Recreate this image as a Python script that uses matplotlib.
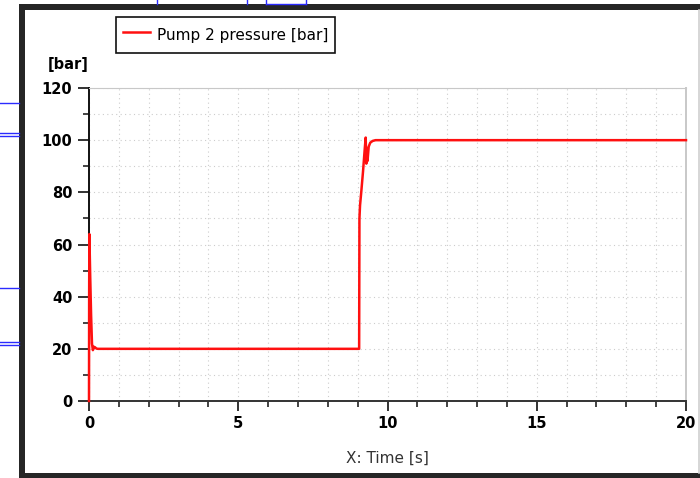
import numpy as np
import matplotlib
matplotlib.use("Agg")
import matplotlib.pyplot as plt
from matplotlib.ticker import MultipleLocator
from matplotlib.lines import Line2D
from matplotlib.patches import Rectangle

# pump 2 pressure trace
time_s = [0.0, 0.005, 0.012, 0.04, 0.07, 0.1, 0.13, 0.16, 0.2, 0.25, 0.3, 0.35,
          9.05, 9.06, 9.08, 9.12, 9.18, 9.24, 9.27, 9.29, 9.31, 9.33, 9.37,
          9.42, 9.5, 9.6, 9.75, 20.0]
pressure_bar = [0.0, 40.0, 64.0, 48.0, 33.0, 22.0, 19.5, 20.8, 20.6, 20.1, 20.0, 20.0,
                20.0, 70.0, 75.0, 80.0, 88.0, 97.0, 101.0, 91.0, 97.0, 92.0, 97.5,
                99.0, 99.7, 100.0, 100.0, 100.0]

x_ticks = [0, 5, 10, 15, 20]
y_ticks = [0, 20, 40, 60, 80, 100, 120]

fig = plt.figure(figsize=(7.0, 4.78), dpi=100)
fig.patch.set_facecolor("white")

# screenshot window frame and blue diagram bits behind it
W, H = 700.0, 478.0
def fx(px):
    return px / W
def fy(py):
    return 1 - py / H

blue = "#2b2bff"
for yy in [103, 133, 136, 288, 342, 345]:
    fig.add_artist(Line2D([0, fx(19)], [fy(yy), fy(yy)], color=blue, lw=1.0))
for xx in [157, 247, 266, 306]:
    fig.add_artist(Line2D([fx(xx), fx(xx)], [1, fy(4)], color=blue, lw=1.0))
fig.add_artist(Line2D([fx(266), fx(306)], [fy(4), fy(4)], color=blue, lw=1.0))
fig.add_artist(Rectangle((fx(19), fy(478)), fx(6), fy(4) - fy(478), color="#262626", lw=0))
fig.add_artist(Rectangle((fx(19), fy(10)), 1 - fx(19), fy(4) - fy(10), color="#262626", lw=0))
fig.add_artist(Rectangle((fx(19), 0), 1 - fx(19), fy(473), color="#262626", lw=0))
fig.add_artist(Line2D([fx(698.5), fx(698.5)], [fy(473), fy(10)], color="#d0d0d0", lw=1.2))

ax = fig.add_axes([fx(89), fy(401), fx(686) - fx(89), fy(88) - fy(401)])
ax.plot(time_s, pressure_bar, color="#ff1010", lw=1.8, label="Pump 2 pressure [bar]",
        clip_on=False, zorder=5)

ax.set_xlim(0, 20)
ax.set_ylim(0, 120)
ax.set_xticks(x_ticks)
ax.set_yticks(y_ticks)
ax.xaxis.set_minor_locator(MultipleLocator(1))
ax.yaxis.set_minor_locator(MultipleLocator(10))
ax.grid(True, which="both", color="#cccccc", linestyle=(0, (1, 3)), lw=0.8)
ax.set_axisbelow(True)

for lab in ax.get_xticklabels() + ax.get_yticklabels():
    lab.set_fontweight("bold")
ax.tick_params(axis="both", which="major", labelsize=10.5, color="#222222", width=1.3)
ax.tick_params(axis="y", which="major", length=8, pad=4)
ax.tick_params(axis="x", which="major", length=7, pad=4)
ax.tick_params(axis="both", which="minor", length=4, width=1.2, color="#222222")

ax.spines["left"].set_color("#111111")
ax.spines["left"].set_linewidth(1.4)
ax.spines["bottom"].set_color("#333333")
ax.spines["bottom"].set_linewidth(1.4)
ax.spines["top"].set_color("#c8c8c8")
ax.spines["right"].set_color("#c8c8c8")
ax.spines["right"].set_linewidth(1.4)

ax.set_xlabel("X: Time [s]", fontsize=11, color="#333333", labelpad=14)
fig.text(fx(48), fy(65), "[bar]", fontsize=10.5, fontweight="bold", ha="left", va="center")

leg = ax.legend(loc="upper left", bbox_to_anchor=(fx(116), fy(17)),
                bbox_transform=fig.transFigure, fontsize=11, fancybox=False,
                edgecolor="#111111", framealpha=1, handlelength=1.77,
                handleheight=1.9, borderaxespad=0, borderpad=0.45,
                handletextpad=0.46)
leg.get_frame().set_linewidth(1.2)

fig.savefig("out.png", dpi=100)
